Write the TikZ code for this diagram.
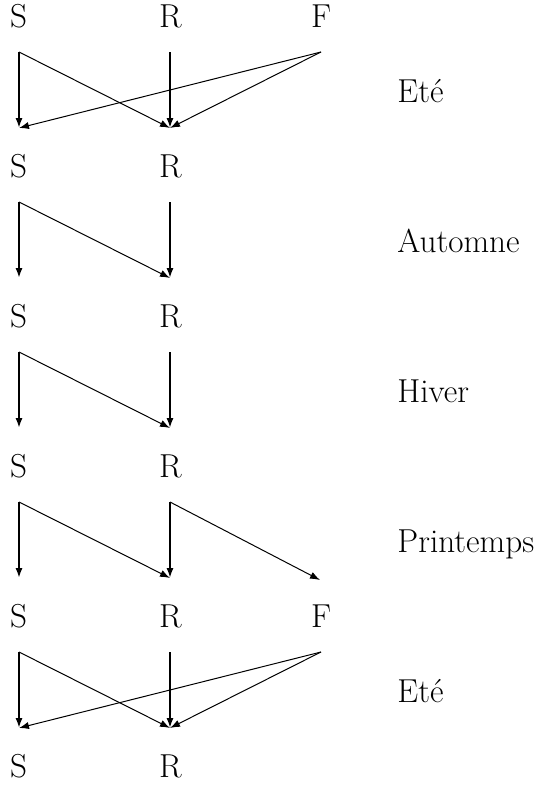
\documentclass[tikz,border=0pt]{standalone}
\usetikzlibrary{arrows.meta}
\begin{document}
\begin{tikzpicture}[x=0.5pt,y=-0.5pt,
  lbl/.style={font=\fontsize{16.6}{20}\selectfont, anchor=base, inner sep=0pt},
  season/.style={lbl, anchor=base west},
  tip/.style={-{Latex[length=5pt,width=3.6pt]}},
  vert/.style={tip, line width=1pt},
  diag/.style={tip, line width=0.5pt}]
\useasboundingbox (0,0) rectangle (537,793);

% state labels, one row per step
\foreach \k in {0,...,5} {
  \node[lbl] (S\k) at (18.5,27+150*\k) {S};
  \node[lbl] (R\k) at (170.5,27+150*\k) {R};
}
\node[lbl] (F0) at (321,27) {F};
\node[lbl] (F4) at (321,627) {F};

% start and end points of the transitions in each step
\foreach \k in {0,...,4} {
  \coordinate (st\k) at (19,52+150*\k);
  \coordinate (sb\k) at (19,128+150*\k);
  \coordinate (rt\k) at (170,52+150*\k);
  \coordinate (rb\k) at (170,128+150*\k);
  \coordinate (ft\k) at (321,52+150*\k);
  \coordinate (fb\k) at (320,130+150*\k);
}

% season names
\node[season] (e1) at (397,102.5) {Et\'e};
\node[season] (a1) at (397,252.5) {Automne};
\node[season] (h1) at (397,402.5) {Hiver};
\node[season] (p1) at (397,552.5) {Printemps};
\node[season] (e2) at (397,702.5) {Et\'e};

% summer
\foreach \k in {0,4} {
  \draw[vert] (st\k) -- (sb\k);
  \draw[vert] (rt\k) -- (rb\k);
  \draw[diag] (st\k) -- (rb\k);
  \draw[diag] (ft\k) -- (sb\k);
  \draw[diag] (ft\k) -- (rb\k);
}
% autumn and winter
\foreach \k in {1,2} {
  \draw[vert] (st\k) -- (sb\k);
  \draw[vert] (rt\k) -- (rb\k);
  \draw[diag] (st\k) -- (rb\k);
}
% spring
\draw[vert] (st3) -- (sb3);
\draw[vert] (rt3) -- (rb3);
\draw[diag] (st3) -- (rb3);
\draw[diag] (rt3) -- (fb3);
\end{tikzpicture}
\end{document}
